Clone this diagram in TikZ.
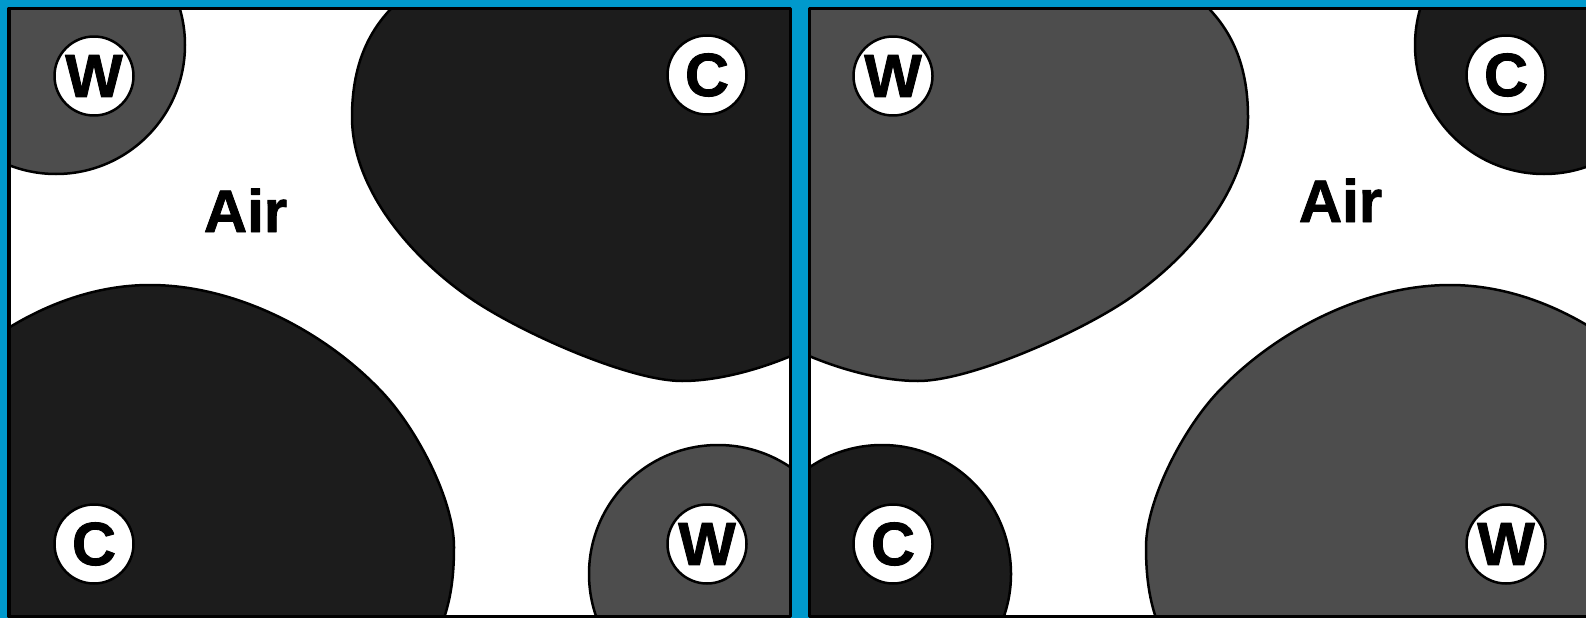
\documentclass[tikz,border=0pt]{standalone}
\usepackage{fontspec}
\setmainfont{Liberation Sans}[BoldFeatures={FakeBold=1.5}]
\definecolor{bluebg}{HTML}{0099CC}
\definecolor{darkfill}{HTML}{1C1C1C}
\definecolor{greyfill}{HTML}{4D4D4D}
\newcommand\drawblobs[2]{%
  \filldraw[blob, fill=#1] (430,-40) -- (400,0) .. controls (372,25) and (352,60) .. (352,117)
     .. controls (352,190) and (412.5,259.2) .. (473,300)
     .. controls (522.7,333.5) and (630,381) .. (682,381)
     .. controls (720,381) and (765,368) .. (800,352) -- (850,340) -- (850,-40) -- cycle;
  \filldraw[blob, fill=#1] (-10,340) .. controls (40,305) and (95,285) .. (150,285)
     .. controls (235,285) and (325,330.9) .. (383,393)
     .. controls (417.1,429.6) and (454,500) .. (454,547)
     .. controls (454,590) and (447,610) .. (440,630) -- (-20,630) -- (-20,340) -- cycle;
  \filldraw[blob, fill=#2] (56,45) circle[radius=129];
  \filldraw[blob, fill=#2] (718,574) circle[radius=129];
}
\begin{document}
\begin{tikzpicture}[x=1pt,y=-1pt,line join=round,
  blob/.style={draw=black, line width=2.5pt},
  badge/.style={circle, draw=black, fill=white, line width=2.5pt, minimum size=79pt, inner sep=0pt, font=\fontsize{61}{61}\selectfont\bfseries},
  lab/.style={anchor=base, inner sep=0pt, font=\fontsize{60}{60}\selectfont\bfseries},
  frame/.style={draw=black, line width=3.5pt}]
\useasboundingbox (0,0) rectangle (1586,618);
\fill[bluebg] (0,0) rectangle (1586,618);
% left panel
\fill[white] (9,8.5) rectangle (790.5,616.5);
\begin{scope}
  \clip (9,8.5) rectangle (790.5,616.5);
  \drawblobs{darkfill}{greyfill}
\end{scope}
\draw[frame] (9,8.5) rectangle (790.5,616.5);
% right panel
\fill[white] (809.5,8.5) rectangle (1595,616.5);
\begin{scope}
  \clip (809.5,8.5) rectangle (1595,616.5);
  \begin{scope}[xshift=1600pt, xscale=-1]
    \drawblobs{greyfill}{darkfill}
  \end{scope}
\end{scope}
\draw[frame] (809.5,8.5) rectangle (1595,616.5);
% badges
\node[badge] (w1) at (94,76) {W};
\node[badge] (c1) at (707,75) {C};
\node[badge] (c2) at (94,544) {C};
\node[badge] (w2) at (707,544) {W};
\node[badge] (w3) at (893,76) {W};
\node[badge] (c3) at (1506,75) {C};
\node[badge] (c4) at (893,544) {C};
\node[badge] (w4) at (1506,544) {W};
\node[lab] (air1) at (245.5,232) {Air};
\node[lab] (air2) at (1340.5,222) {Air};
\end{tikzpicture}
\end{document}
